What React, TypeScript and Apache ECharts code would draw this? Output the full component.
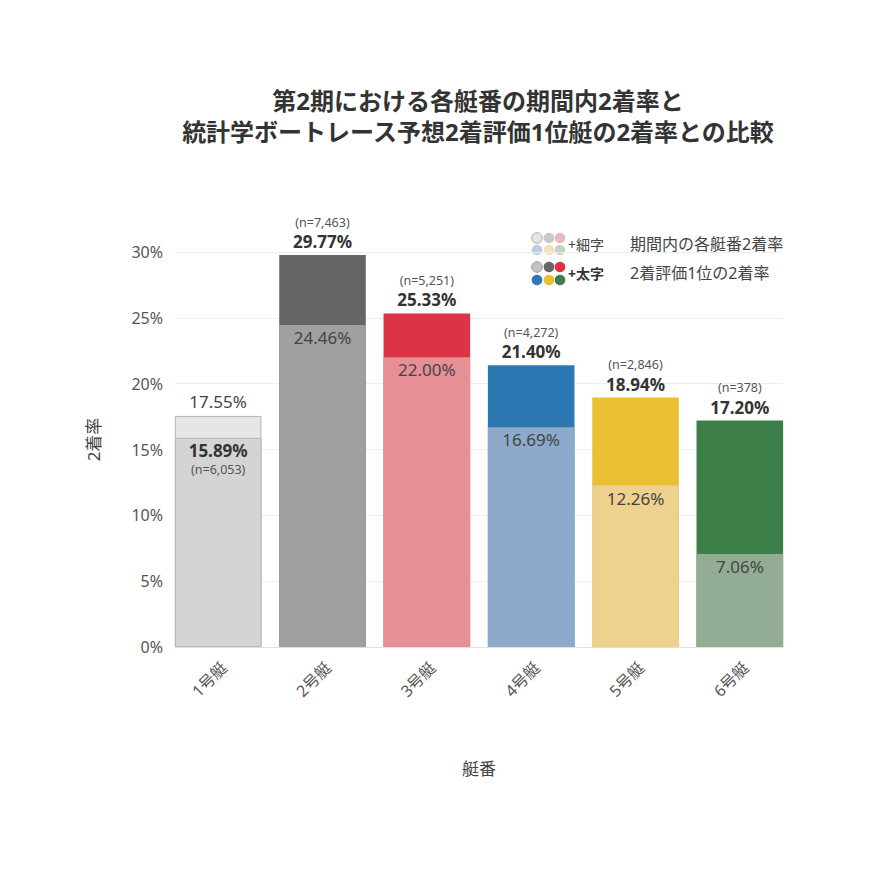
import React, { useEffect, useRef } from "react";
import * as echarts from "echarts";

const categories = ["1号艇", "2号艇", "3号艇", "4号艇", "5号艇", "6号艇"];
const periodRates = [17.55, 24.46, 22.0, 16.69, 12.26, 7.06];
const evalRates = [15.89, 29.77, 25.33, 21.4, 18.94, 17.2];
const evalCounts = ["6,053", "7,463", "5,251", "4,272", "2,846", "378"];
const lightColors = ["#e6e6e6", "#a0a0a0", "#e68f95", "#8eaacb", "#efd18e", "#93ad95"];
const darkColors = ["#d4d4d4", "#666666", "#db3545", "#2b78b3", "#e8c032", "#3c7f48"];
const yTicks = [0, 5, 10, 15, 20, 25, 30];
const legendLight = ["#e6e6e6", "#c8c8c8", "#ebb9bc", "#bccde4", "#f3e3b6", "#c7d3c7"];
const legendDark = ["#c4c4c4", "#666666", "#db3545", "#2b78b3", "#e8c032", "#3c7f48"];
const titleLines = [
  "第2期における各艇番の期間内2着率と",
  "統計学ボートレース予想2着評価1位艇の2着率との比較",
];

const FONT = "'Noto Sans', 'Noto Sans CJK JP', sans-serif";

const fmt = (v: number) => v.toFixed(2) + "%";

export default function App() {
  const ref = useRef<HTMLDivElement>(null);
  useEffect(() => {
    if (!ref.current) return;
    const chart = echarts.init(ref.current, null, { renderer: "svg" });

    const backData: any[] = [];
    const frontData: any[] = [];
    categories.forEach((_, i) => {
      const evalHigher = evalRates[i] >= periodRates[i];
      const border = i === 0 ? { borderColor: "#b5b5b5", borderWidth: 1 } : {};
      const evalItem = {
        value: evalRates[i],
        itemStyle: { color: darkColors[i], ...border },
      };
      const periodItem = {
        value: periodRates[i],
        itemStyle: { color: lightColors[i], ...border },
      };
      if (evalHigher) {
        backData.push({
          ...evalItem,
          label: {
            show: true,
            position: "top",
            distance: 3,
            formatter: `{n|(n=${evalCounts[i]})}\n{b|${fmt(evalRates[i])}}`,
          },
        });
        frontData.push({
          ...periodItem,
          label: {
            show: true,
            position: "insideTop",
            distance: 2,
            formatter: `{r|${fmt(periodRates[i])}}`,
          },
        });
      } else {
        backData.push({
          ...periodItem,
          label: {
            show: true,
            position: "top",
            distance: 4,
            formatter: `{r|${fmt(periodRates[i])}}`,
          },
        });
        frontData.push({
          ...evalItem,
          label: {
            show: true,
            position: "insideTop",
            distance: 2,
            formatter: `{b|${fmt(evalRates[i])}}\n{n|(n=${evalCounts[i]})}`,
          },
        });
      }
    });

    const rich = {
      n: { fontSize: 12.5, color: "#555", lineHeight: 18, fontFamily: FONT },
      b: { fontSize: 17, fontWeight: "bold", color: "#333", lineHeight: 21, fontFamily: FONT },
      r: { fontSize: 17, color: "#444", lineHeight: 21, fontFamily: FONT },
    };

    const legendCircles: any[] = [];
    const cx = [537, 549, 560];
    legendLight.forEach((c, k) => {
      legendCircles.push({
        type: "circle",
        shape: { cx: cx[k % 3], cy: k < 3 ? 238 : 250, r: 5.3 },
        style: { fill: c, stroke: k === 0 ? "#aaa" : null, lineWidth: 1 },
      });
    });
    legendDark.forEach((c, k) => {
      legendCircles.push({
        type: "circle",
        shape: { cx: cx[k % 3], cy: k < 3 ? 267 : 280, r: 5.3 },
        style: { fill: c, stroke: k === 0 ? "#999" : null, lineWidth: 1 },
      });
    });

    const yMin = yTicks[0];
    const yMax = yTicks[yTicks.length - 1];

    chart.setOption({
      animation: false,
      backgroundColor: "#ffffff",
      textStyle: { fontFamily: FONT },
      grid: [
        { left: 166, right: 78, top: 252, bottom: 223 },
        { left: 175, right: 87, top: 252, bottom: 223 },
      ],
      xAxis: [
        {
          type: "category",
          gridIndex: 0,
          data: categories,
          name: "艇番",
          nameLocation: "middle",
          nameGap: 113,
          nameTextStyle: { fontSize: 17, color: "#444", fontFamily: FONT },
          axisTick: { show: false },
          axisLine: { show: false },
          axisLabel: {
            rotate: 45,
            fontSize: 16,
            color: "#555",
            margin: 12,
            verticalAlign: "top",
            fontFamily: FONT,
          },
        },
        {
          type: "category",
          gridIndex: 1,
          data: categories,
          axisTick: { show: false },
          axisLabel: { show: false },
          axisLine: { lineStyle: { color: "#e0e0e0" } },
        },
      ],
      yAxis: [
        {
          type: "value",
          gridIndex: 0,
          min: yMin,
          max: yMax,
          interval: 5,
          show: false,
          splitLine: { show: false },
        },
        {
          type: "value",
          gridIndex: 1,
          min: yMin,
          max: yMax,
          interval: 5,
          name: "2着率",
          nameLocation: "middle",
          nameGap: 73,
          nameTextStyle: {
            fontSize: 17,
            color: "#444",
            fontFamily: FONT,
            padding: [0, 0, 0, 20],
          },
          axisLabel: {
            formatter: "{value}%",
            fontSize: 16,
            color: "#555",
            margin: 12,
            fontFamily: FONT,
          },
          axisLine: { show: false },
          axisTick: { show: false },
          splitLine: { lineStyle: { color: "#eeeeee" } },
        },
      ],
      series: [
        {
          type: "bar",
          xAxisIndex: 0,
          yAxisIndex: 0,
          data: backData,
          barWidth: "83%",
          barGap: "-100%",
          label: { rich },
          z: 2,
        },
        {
          type: "bar",
          xAxisIndex: 0,
          yAxisIndex: 0,
          data: frontData,
          barWidth: "83%",
          barGap: "-100%",
          label: { rich },
          z: 3,
        },
      ],
      graphic: [
        {
          type: "text",
          x: 478,
          y: 100,
          style: {
            text: titleLines[0],
            fill: "#333",
            align: "center",
            verticalAlign: "middle",
            font: `bold 24px ${FONT}`,
          },
        },
        {
          type: "text",
          x: 478,
          y: 131,
          style: {
            text: titleLines[1],
            fill: "#333",
            align: "center",
            verticalAlign: "middle",
            font: `bold 24px ${FONT}`,
          },
        },
        ...legendCircles,
        {
          type: "text",
          x: 568,
          y: 244,
          style: { text: "+細字", fill: "#444", verticalAlign: "middle", font: `14px ${FONT}` },
        },
        {
          type: "text",
          x: 630,
          y: 244,
          style: { text: "期間内の各艇番2着率", fill: "#444", verticalAlign: "middle", font: `16px ${FONT}` },
        },
        {
          type: "text",
          x: 568,
          y: 273,
          style: { text: "+太字", fill: "#333", verticalAlign: "middle", font: `bold 14px ${FONT}` },
        },
        {
          type: "text",
          x: 630,
          y: 273,
          style: { text: "2着評価1位の2着率", fill: "#444", verticalAlign: "middle", font: `16px ${FONT}` },
        },
      ],
    });
    return () => chart.dispose();
  }, []);
  return (
    <div
      ref={ref}
      style={{ position: "absolute", left: 0, top: 0, width: 870, height: 870 }}
    />
  );
}
